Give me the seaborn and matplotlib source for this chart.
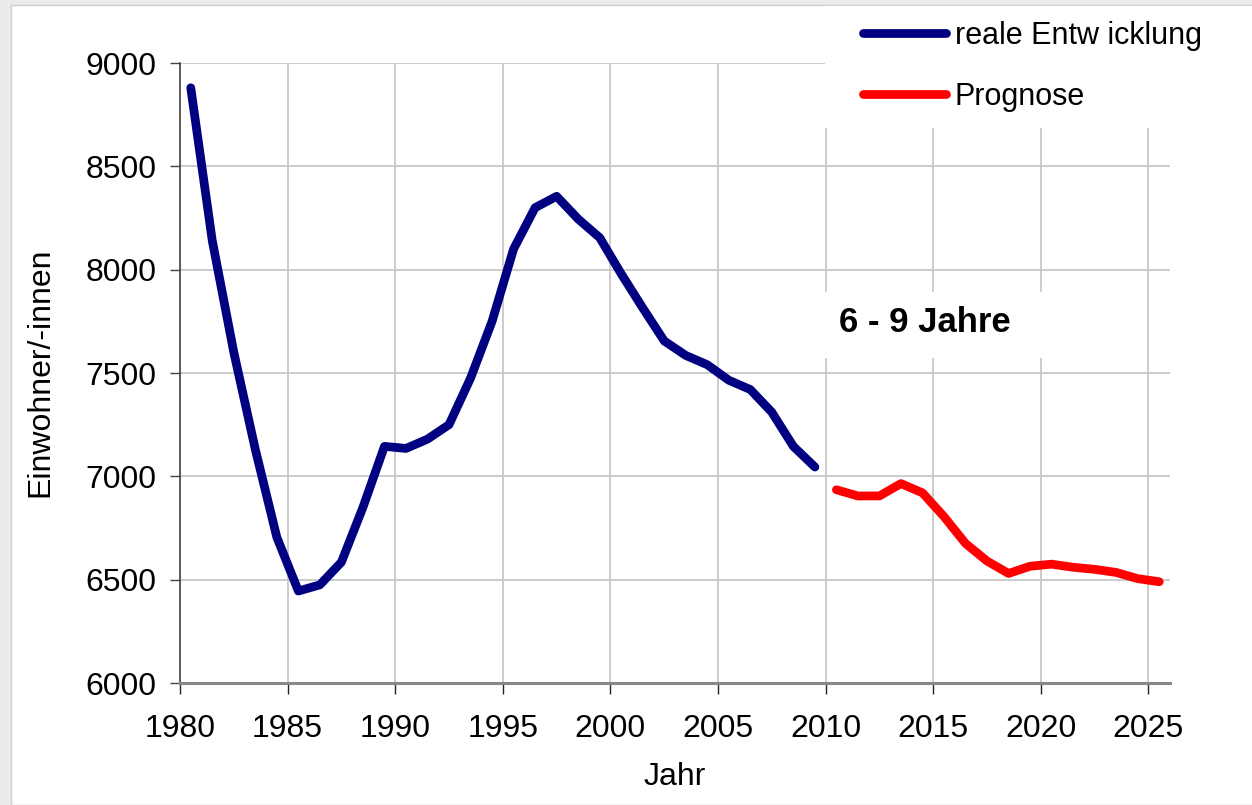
import numpy as np
import pandas as pd
import matplotlib
matplotlib.use("Agg")
import matplotlib.pyplot as plt
import seaborn as sns
from matplotlib.patches import Rectangle

# Data
years_real = list(range(1980, 2010))
values_real = [8880, 8140, 7600, 7130, 6705, 6445, 6475, 6585, 6850, 7145,
               7135, 7180, 7250, 7475, 7750, 8100, 8300, 8355, 8245, 8155,
               7980, 7815, 7655, 7585, 7540, 7465, 7420, 7310, 7145, 7045]

years_prog = list(range(2010, 2026))
values_prog = [6935, 6905, 6905, 6965, 6920, 6805, 6675, 6590, 6530, 6565,
               6575, 6560, 6550, 6535, 6505, 6490]

x_ticks = list(range(1980, 2026, 5))
y_ticks = list(range(6000, 9001, 500))

LABEL_REAL = "reale Entw icklung"
LABEL_PROG = "Prognose"
BOX_TEXT = "6 - 9 Jahre"

BLUE = "#000080"
RED = "#FF0000"
GRID = "#c8c8c8"

sns.set_style("white")
plt.rcParams["font.family"] = ["Liberation Sans", "DejaVu Sans"]
plt.rcParams["text.color"] = "black"
plt.rcParams["axes.labelcolor"] = "black"
plt.rcParams["xtick.labelcolor"] = "black"
plt.rcParams["ytick.labelcolor"] = "black"

df_real = pd.DataFrame({"Jahr": np.array(years_real) + 0.5, "Wert": values_real})
df_prog = pd.DataFrame({"Jahr": np.array(years_prog) + 0.5, "Wert": values_prog})

fig = plt.figure(figsize=(12.52, 8.05), dpi=100, facecolor="#ebebeb")
# white panel with thin border (screenshot frame)
fig.patches.append(Rectangle((11 / 1252, 0), 1.0, 1 - 5 / 805, transform=fig.transFigure,
                             facecolor="white", edgecolor="#d0d0d0", lw=1, zorder=-10))

ax = fig.add_axes([180 / 1252, 1 - 683 / 805, 990 / 1252, 620 / 805])
ax.set_facecolor("none")

sns.lineplot(data=df_real, x="Jahr", y="Wert", ax=ax, color=BLUE, lw=6.3,
             solid_capstyle="round", solid_joinstyle="round", label=LABEL_REAL, zorder=3)
sns.lineplot(data=df_prog, x="Jahr", y="Wert", ax=ax, color=RED, lw=6.3,
             solid_capstyle="round", solid_joinstyle="round", label=LABEL_PROG, zorder=3)

ax.set_xlim(1980, 2026)
ax.set_ylim(6000, 9000)
ax.set_xticks(x_ticks)
ax.set_yticks(y_ticks)
ax.grid(True, color=GRID, lw=1.3, zorder=0)
ax.set_axisbelow(True)

for s in ["top", "right"]:
    ax.spines[s].set_visible(False)
ax.spines["left"].set_color("#444444")
ax.spines["left"].set_linewidth(1.2)
ax.spines["bottom"].set_color("#888888")
ax.spines["bottom"].set_linewidth(2.2)

ax.tick_params(axis="y", direction="out", length=7, width=1, color="#444444",
               labelsize=23, pad=10, left=True)
ax.tick_params(axis="x", direction="out", length=8, width=1, color="#222222",
               labelsize=23, pad=14, bottom=True)

ax.set_xlabel("Jahr", fontsize=23)
ax.set_ylabel("Einwohner/-innen", fontsize=23, va="center")
ax.xaxis.set_label_coords(0.5, -0.127)
ax.yaxis.set_label_coords(-0.1414, 0.5016)

# white box behind the legend area and behind the age-group text
ax.add_patch(Rectangle((0.6515, 0.895), 0.45, 0.197, transform=ax.transAxes,
                       facecolor="white", edgecolor="none", zorder=1, clip_on=False))
ax.add_patch(Rectangle((0.6515, 0.524), 0.2275, 0.107, transform=ax.transAxes,
                       facecolor="white", edgecolor="none", zorder=1))
ax.text(0.7525, 0.582, BOX_TEXT, transform=ax.transAxes, fontsize=25,
        fontweight="bold", ha="center", va="center", zorder=4)

leg = ax.legend(loc="upper left", bbox_to_anchor=(863 / 1252, 1 - 21 / 805),
                bbox_transform=fig.transFigure, frameon=False, fontsize=22,
                handlelength=2.7, handletextpad=0.3, labelspacing=1.0,
                borderpad=0, borderaxespad=0)

fig.savefig("out.png", dpi=100, facecolor=fig.get_facecolor())
